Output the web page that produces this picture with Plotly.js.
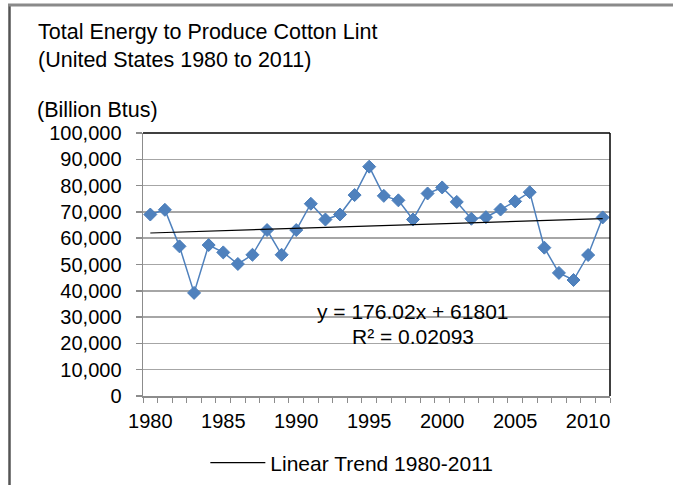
<!DOCTYPE html>
<html>
<head>
<meta charset="utf-8">
<script src="https://cdn.plot.ly/plotly-3.0.1.min.js"></script>
<style>
  html, body { margin: 0; padding: 0; background: #ffffff; }
  #chart { width: 673px; height: 485px; }
</style>
</head>
<body>
<div id="chart"></div>
<script>
// ---- data ----
const years = [1980, 1981, 1982, 1983, 1984, 1985, 1986, 1987, 1988, 1989,
               1990, 1991, 1992, 1993, 1994, 1995, 1996, 1997, 1998, 1999,
               2000, 2001, 2002, 2003, 2004, 2005, 2006, 2007, 2008, 2009,
               2010, 2011];
const energy = [69000, 70800, 56900, 39200, 57400, 54600, 50200, 53700, 63100, 53700,
                63100, 73100, 67100, 69000, 76400, 87200, 76100, 74400, 67100, 77000,
                79300, 73800, 67400, 68000, 70900, 74000, 77500, 56400, 46800, 44100,
                53600, 67900];
const trendSlope = 176.02;
const trendIntercept = 61801;
const trendR2 = 0.02093;
const xTickVals = [1980, 1985, 1990, 1995, 2000, 2005, 2010];
const xTickText = ["1980", "1985", "1990", "1995", "2000", "2005", "2010"];
const chartTitle = "Total Energy to Produce Cotton Lint<br>(United States 1980 to 2011)";
const unitLabel = "(Billion Btus)";
const trendName = "Linear Trend 1980-2011";

// trend line evaluated with the Excel-style index x = 1..n
const trendY = years.map((y, i) => trendSlope * (i + 1) + trendIntercept);

const FONT = "Liberation Sans, Arial, sans-serif";
const AXGRAY = "#8c8c8c";

const traces = [
  {
    x: years, y: energy, type: "scatter", mode: "lines+markers",
    showlegend: false,
    line: { color: "#4f81bd", width: 1.5 },
    marker: { symbol: "diamond", size: 10, color: "#4f81bd", line: { color: "#4a7ebb", width: 1 } },
    hoverinfo: "x+y"
  },
  {
    x: years, y: trendY, type: "scatter", mode: "lines",
    name: trendName,
    line: { color: "#000000", width: 1.2 },
    hoverinfo: "skip"
  }
];

const layout = {
  width: 673, height: 485,
  margin: { l: 143, r: 63, t: 133, b: 89, autoexpand: false },
  paper_bgcolor: "#ffffff", plot_bgcolor: "#ffffff",
  font: { family: FONT, size: 20, color: "#000000" },
  title: {
    text: chartTitle,
    font: { family: FONT, size: 21.5, color: "#000000" },
    xref: "container", yref: "container",
    x: 38 / 673, xanchor: "left",
    y: 1 - 39 / 485, yanchor: "top",
    automargin: false
  },
  xaxis: {
    type: "linear",
    range: [1979.5, 2011.5],
    tickvals: xTickVals, ticktext: xTickText,
    ticks: "", showgrid: false, zeroline: false,
    showline: true, linecolor: AXGRAY, linewidth: 1.5,
    tickfont: { family: FONT, size: 20, color: "#000000" },
    ticklabelstandoff: 6,
    minor: { ticks: "outside", tick0: 1979.5, dtick: 1, ticklen: 5, tickcolor: AXGRAY, tickwidth: 1, showgrid: false }
  },
  yaxis: {
    range: [0, 100000], dtick: 10000, tick0: 0,
    tickformat: ",d",
    ticks: "outside", ticklen: 6, tickcolor: AXGRAY, tickwidth: 1.5,
    showgrid: true, gridcolor: "#a6a6a6", gridwidth: 1.5,
    zeroline: false,
    showline: true, linecolor: AXGRAY, linewidth: 1.5,
    tickfont: { family: FONT, size: 20, color: "#000000" },
    ticklabelstandoff: 10
  },
  legend: {
    orientation: "h",
    x: 0.4472, xanchor: "center",
    y: -0.2548, yanchor: "middle",
    itemwidth: 55,
    font: { family: FONT, size: 21, color: "#000000" },
    bgcolor: "rgba(0,0,0,0)"
  },
  annotations: [
    {
      text: unitLabel, xref: "paper", yref: "paper",
      x: (35 - 143) / 467, xanchor: "left",
      y: 1.0875, yanchor: "middle",
      showarrow: false, font: { family: FONT, size: 21.5, color: "#000000" }
    },
    {
      text: "y = " + trendSlope.toFixed(2) + "x + " + trendIntercept,
      xref: "paper", yref: "paper",
      x: 0.5787, xanchor: "center", y: 0.323, yanchor: "middle",
      showarrow: false, font: { family: FONT, size: 21, color: "#000000" }
    },
    {
      text: "R² = " + trendR2.toFixed(5),
      xref: "paper", yref: "paper",
      x: 0.5787, xanchor: "center", y: 0.228, yanchor: "middle",
      showarrow: false, font: { family: FONT, size: 21, color: "#000000" }
    }
  ],
  shapes: [
    // plot area frame: top and right in black
    { type: "line", xref: "paper", yref: "paper", x0: 0, x1: 1, y0: 1, y1: 1, line: { color: "#000000", width: 1.5 } },
    { type: "line", xref: "paper", yref: "paper", x0: 1, x1: 1, y0: 0, y1: 1, line: { color: "#000000", width: 1.5 } },
    // outer chart border (left and top)
    { type: "line", xref: "paper", yref: "paper", x0: (9.5 - 143) / 467, x1: (9.5 - 143) / 467, y0: (396 - 4) / 263, y1: (396 - 495) / 263, line: { color: "#555555", width: 2.5 } },
    { type: "line", xref: "paper", yref: "paper", x0: (8 - 143) / 467, x1: (690 - 143) / 467, y0: (396 - 5) / 263, y1: (396 - 5) / 263, line: { color: "#8a8a8a", width: 3 } }
  ]
};

Plotly.newPlot("chart", traces, layout, { staticPlot: true, displayModeBar: false });
</script>
</body>
</html>
